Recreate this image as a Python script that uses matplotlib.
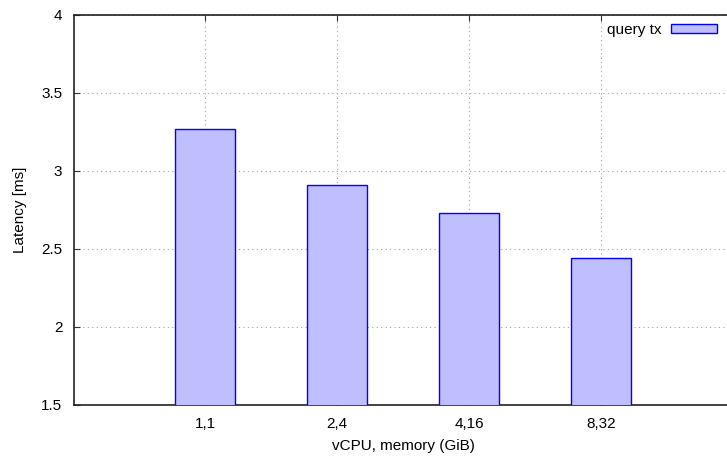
import matplotlib
matplotlib.use("Agg")
import matplotlib.pyplot as plt

plt.rcParams['font.family'] = ['Liberation Sans', 'DejaVu Sans']

# data
configs = ['1,1', '2,4', '4,16', '8,32']
latency = [3.27, 2.91, 2.73, 2.44]
series_name = 'query tx'

W, H = 727, 459
fig = plt.figure(figsize=(W / 100, H / 100), dpi=100)

# plot area: left 73.5px, bottom 404.5px, top 14.7px, right edge lies past the image
left, right, top, bottom = 73.5, 733.0, 14.7, 404.5
ax = fig.add_axes([left / W, 1 - bottom / H, (right - left) / W, (bottom - top) / H])

xpos = [i + 1 for i in range(len(configs))]
ax.bar(xpos, latency, width=0.455, bottom=0, color='#bfbfff', edgecolor='#0000ff',
       linewidth=1.0, label=series_name, zorder=3)

ax.set_xlim(0, 5)
ax.set_ylim(1.5, 4)
ax.set_xticks(xpos)
ax.set_xticklabels(configs)
ax.set_yticks([1.5, 2, 2.5, 3, 3.5, 4])
ax.set_yticklabels(['1.5', '2', '2.5', '3', '3.5', '4'])

fs = 11
ax.tick_params(direction='in', length=4, width=0.8, labelsize=fs, pad=8,
               top=True, right=True, color='#333333')
ax.tick_params(axis='x', pad=9)
ax.grid(True, linestyle=(0, (1, 3)), color='#a0a0a0', linewidth=0.8, zorder=0)
for s in ax.spines.values():
    s.set_linewidth(1.2)
    s.set_color('#222222')

fig.text(403 / W, 1 - 446 / H, 'vCPU, memory (GiB)', ha='center', va='center', fontsize=fs)
fig.text(20 / W, 1 - 210 / H, 'Latency [ms]', ha='center', va='center',
         rotation=90, fontsize=fs)

leg = ax.legend(loc='upper right', bbox_to_anchor=(717 / W, 1 - 23 / H),
                bbox_transform=fig.transFigure, frameon=False, markerfirst=False,
                fontsize=fs, handlelength=3.0, handleheight=0.5, handletextpad=0.65,
                borderpad=0, borderaxespad=0)

fig.savefig('out.png', dpi=100)
